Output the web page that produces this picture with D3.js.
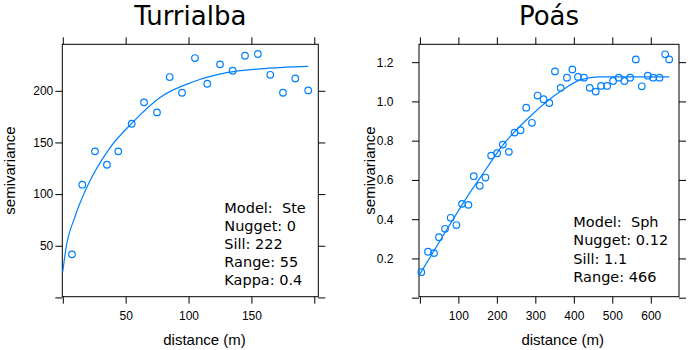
<!DOCTYPE html>
<html>
<head>
<meta charset="utf-8">
<script src="https://cdn.jsdelivr.net/npm/d3@7"></script>
<style>
    body { margin: 0; background: #fff; }
    svg { display: block; }
    .tick text { font-family: "Liberation Sans", Arial, sans-serif; font-size: 12px; fill: #000; }
    .tick line { stroke: #000; }
</style>
</head>
<body>
<div id="chart-area"></div>
<script>
// Turrialba sample variogram
var turDist = [7.3, 15.5, 25.6, 35.1, 44.1, 54.8, 64.6, 74.9, 85.0, 94.8, 105.1, 114.9, 125.0, 135.1, 144.9, 155.1, 165.0, 175.1, 184.9, 195.2];
var turGamma = [41.7, 109.1, 141.4, 128.4, 141.4, 168.1, 188.8, 179.1, 213.3, 198.1, 231.7, 206.8, 225.6, 219.4, 233.9, 235.6, 215.5, 198.1, 212.0, 200.4];
// fitted model line
var turLineDist = [0, 2.3, 9.7, 19.6, 36.2, 54.8, 77.3, 103.8, 130.3, 156.8, 195.2];
var turLineGamma = [24.9, 45.9, 78.1, 107.8, 142.6, 168.5, 193.6, 208.7, 217.5, 221.2, 223.6];
var turXTicks = [0, 50, 100, 150, 200];
var turXLabels = [50, 100, 150];
var turYTicks = [0, 50, 100, 150, 200];
var turYLabels = [50, 100, 150, 200];
var turNotes = ["Model:  Ste", "Nugget: 0", "Sill: 222", "Range: 55", "Kappa: 0.4"];

// Poás sample variogram
var poaDist = [3.7, 21.1, 36.7, 49.7, 65.4, 80.1, 94.9, 109.6, 126.1, 140, 155.6, 170.4, 185.2, 200.8, 215.5, 231.1, 245.9, 261.6, 276.3, 291.1, 305.9, 321.4, 336.2, 351, 365.7, 382.2, 396.1, 410.8, 426.4, 441.3, 456.9, 470.7, 486.4, 502, 516.8, 531.5, 546.3, 561, 576.6, 592.3, 606.2, 622.7, 637.4, 647.8];
var poaGamma = [0.130, 0.234, 0.227, 0.308, 0.351, 0.407, 0.370, 0.478, 0.473, 0.619, 0.570, 0.612, 0.724, 0.736, 0.780, 0.743, 0.841, 0.853, 0.968, 0.891, 1.030, 1.011, 0.992, 1.153, 1.069, 1.121, 1.163, 1.125, 1.121, 1.069, 1.050, 1.079, 1.079, 1.104, 1.121, 1.104, 1.121, 1.214, 1.077, 1.131, 1.121, 1.121, 1.240, 1.214];
var poaLineDist = [0, 74, 120, 169.5, 208.6, 295.3, 364.8, 416.9, 466, 648];
var poaLineGamma = [0.12, 0.36, 0.505, 0.648, 0.76, 0.94, 1.05, 1.11, 1.125, 1.125];
var poaXTicks = [0, 100, 200, 300, 400, 500, 600];
var poaXLabels = [100, 200, 300, 400, 500, 600];
var poaYTicks = [0, 0.2, 0.4, 0.6, 0.8, 1.0, 1.2];
var poaYLabels = [0.2, 0.4, 0.6, 0.8, 1.0, 1.2];
var poaNotes = ["Model:  Sph", "Nugget: 0.12", "Sill: 1.1", "Range: 466"];

var COL = "#0080ff";

var svg = d3.select("#chart-area").append("svg")
    .attr("width", 688)
    .attr("height", 350);

function Panel(opts) {
    var self = this;
    self.opts = opts;
    self.init();
}

Panel.prototype.init = function() {
    var self = this;
    var o = self.opts;

    var x = d3.scaleLinear().domain(o.xDomain).range([o.left, o.right]);
    var y = d3.scaleLinear().domain(o.yDomain).range([o.bottom, o.top]);
    var g = svg.append("g");

    // ticks on all four sides, labels only bottom/left
    var fmtX = function(d) { return o.xLabels.indexOf(d) >= 0 ? o.xFmt(d) : ""; };
    var fmtY = function(d) { return o.yLabels.indexOf(d) >= 0 ? o.yFmt(d) : ""; };

    g.append("g")
        .attr("transform", "translate(0," + o.bottom + ")")
        .call(d3.axisBottom(x).tickValues(o.xTicks).tickFormat(fmtX).tickSize(7).tickSizeOuter(0).tickPadding(8));
    g.append("g")
        .attr("transform", "translate(0," + o.top + ")")
        .call(d3.axisTop(x).tickValues(o.xTicks).tickFormat("").tickSize(7).tickSizeOuter(0));
    g.append("g")
        .attr("transform", "translate(" + o.left + ",0)")
        .call(d3.axisLeft(y).tickValues(o.yTicks).tickFormat(fmtY).tickSize(7).tickSizeOuter(0).tickPadding(o.yPad));
    g.append("g")
        .attr("transform", "translate(" + o.right + ",0)")
        .call(d3.axisRight(y).tickValues(o.yTicks).tickFormat("").tickSize(7).tickSizeOuter(0));
    g.selectAll(".domain").remove();

    g.append("rect")
        .attr("x", o.left)
        .attr("y", o.top)
        .attr("width", o.right - o.left)
        .attr("height", o.bottom - o.top)
        .attr("fill", "none")
        .attr("stroke", "#000")
        .attr("stroke-width", 1);

    // model line
    var line = d3.line()
        .x(function(d) { return x(d[0]); })
        .y(function(d) { return y(d[1]); })
        .curve(d3.curveMonotoneX);

    g.append("path")
        .datum(d3.zip(o.lineX, o.lineY))
        .attr("d", line)
        .attr("fill", "none")
        .attr("stroke", COL)
        .attr("stroke-width", 1.2);

    g.selectAll("circle.pt")
        .data(d3.zip(o.ptX, o.ptY))
        .enter()
        .append("circle")
        .attr("class", "pt")
        .attr("cx", function(d) { return x(d[0]); })
        .attr("cy", function(d) { return y(d[1]); })
        .attr("r", 3.3)
        .attr("fill", "none")
        .attr("stroke", COL)
        .attr("stroke-width", 1.2);

    // titles
    g.append("text")
        .attr("x", (o.left + o.right) / 2)
        .attr("y", 25)
        .attr("text-anchor", "middle")
        .style("font-family", "'DejaVu Sans', sans-serif")
        .style("font-size", "26px")
        .text(o.title);

    g.append("text")
        .attr("x", o.xLabX)
        .attr("y", 345)
        .attr("text-anchor", "middle")
        .style("font-family", "'Liberation Sans', Arial, sans-serif")
        .style("font-size", "15px")
        .text("distance (m)");

    g.append("text")
        .attr("transform", "translate(" + o.yLabX + "," + ((o.top + o.bottom) / 2) + ") rotate(-90)")
        .attr("text-anchor", "middle")
        .style("font-family", "'Liberation Sans', Arial, sans-serif")
        .style("font-size", "15px")
        .text("semivariance");

    // fit parameters
    g.selectAll("text.note")
        .data(o.notes)
        .enter()
        .append("text")
        .attr("class", "note")
        .attr("x", o.noteX)
        .attr("y", function(d, i) { return o.noteY + i * o.noteStep; })
        .attr("xml:space", "preserve")
        .style("white-space", "pre")
        .style("font-family", "'DejaVu Sans', sans-serif")
        .style("font-size", "14.5px")
        .text(function(d) { return d; });
};

new Panel({
    title: "Turrialba",
    left: 62.3, right: 318.3, top: 44.3, bottom: 296.7,
    xDomain: [-0.4, 203.2], yDomain: [0.7, 245],
    xTicks: turXTicks, xLabels: turXLabels, xFmt: d3.format("d"),
    yTicks: turYTicks, yLabels: turYLabels, yFmt: d3.format("d"), yPad: 2,
    ptX: turDist, ptY: turGamma, lineX: turLineDist, lineY: turLineGamma,
    xLabX: 204.5, yLabX: 15,
    notes: turNotes, noteX: 224.3, noteY: 213.3, noteStep: 17.9
});

new Panel({
    title: "Poás",
    left: 419, right: 679, top: 44.3, bottom: 296.7,
    xDomain: [-2.3, 673.3], yDomain: [0.005, 1.291],
    xTicks: poaXTicks, xLabels: poaXLabels, xFmt: d3.format("d"),
    yTicks: poaYTicks, yLabels: poaYLabels, yFmt: d3.format(".1f"), yPad: 18.5,
    ptX: poaDist, ptY: poaGamma, lineX: poaLineDist, lineY: poaLineGamma,
    xLabX: 562.7, yLabX: 375,
    notes: poaNotes, noteX: 573.3, noteY: 227.3, noteStep: 18.1
});
</script>
</body>
</html>
